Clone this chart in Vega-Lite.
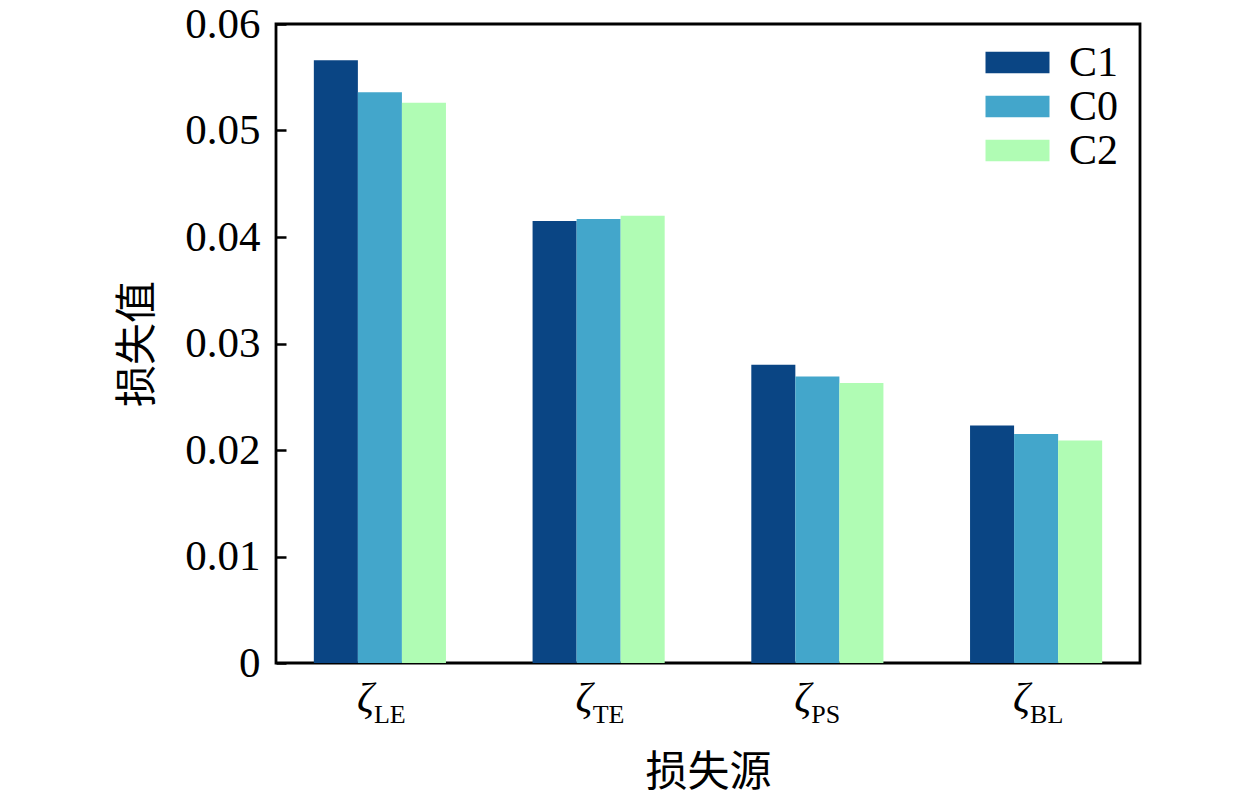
{
  "$schema": "https://vega.github.io/schema/vega-lite/v6.json",
  "width": 864,
  "height": 639,
  "autosize": {"type": "none"},
  "padding": {"left": 276, "top": 24, "right": 119, "bottom": 134},
  "background": "white",
  "config": {
    "view": {"stroke": "black", "strokeWidth": 2.8},
    "font": "Liberation Serif",
    "axis": {
      "domain": false,
      "grid": false,
      "tickColor": "black",
      "tickWidth": 2.5,
      "tickSize": -10,
      "labelColor": "black",
      "titleColor": "black",
      "titleFont": "Noto Sans CJK SC",
      "titleFontWeight": "normal",
      "titleFontSize": 42
    }
  },
  "data": {
    "values": [
      {"source": "LE", "group": "C1", "value": 0.0566},
      {"source": "LE", "group": "C0", "value": 0.0536},
      {"source": "LE", "group": "C2", "value": 0.0526},
      {"source": "TE", "group": "C1", "value": 0.0415},
      {"source": "TE", "group": "C0", "value": 0.0417},
      {"source": "TE", "group": "C2", "value": 0.0420},
      {"source": "PS", "group": "C1", "value": 0.0280},
      {"source": "PS", "group": "C0", "value": 0.0269},
      {"source": "PS", "group": "C2", "value": 0.0263},
      {"source": "BL", "group": "C1", "value": 0.0223},
      {"source": "BL", "group": "C0", "value": 0.0215},
      {"source": "BL", "group": "C2", "value": 0.0209}
    ]
  },
  "encoding": {
    "x": {
      "field": "source",
      "type": "nominal",
      "sort": ["LE", "TE", "PS", "BL"],
      "scale": {"paddingInner": 0.396, "paddingOuter": 0.173},
      "axis": {
        "title": "损失源",
        "labels": false,
        "titleY": 122,
        "titleBaseline": "alphabetic"
      }
    }
  },
  "layer": [
    {
      "mark": {"type": "bar"},
      "encoding": {
        "xOffset": {
          "field": "group",
          "type": "nominal",
          "sort": ["C1", "C0", "C2"],
          "scale": {"paddingInner": 0, "paddingOuter": 0}
        },
        "y": {
          "field": "value",
          "type": "quantitative",
          "scale": {"domain": [0, 0.06], "nice": false},
          "axis": {
            "title": "损失值",
            "values": [0, 0.01, 0.02, 0.03, 0.04, 0.05, 0.06],
            "format": "~g",
            "labelFontSize": 43,
            "labelPadding": 26,
            "titlePadding": 25
          }
        },
        "color": {
          "field": "group",
          "type": "nominal",
          "sort": ["C1", "C0", "C2"],
          "scale": {
            "domain": ["C1", "C0", "C2"],
            "range": ["#0a4584", "#43a6cb", "#b0fcb4"]
          },
          "legend": {
            "title": null,
            "orient": "none",
            "legendX": 720,
            "legendY": 17,
            "symbolType": "M-1.5,-0.5H1.5V0.5H-1.5Z",
            "symbolSize": 1820,
            "symbolStrokeWidth": 0,
            "symbolOpacity": 1,
            "labelFontSize": 42,
            "labelFont": "Liberation Serif",
            "labelColor": "black",
            "labelOffset": 30,
            "rowPadding": 1
          }
        }
      }
    },
    {
      "transform": [{"filter": "datum.group == 'C0'"}],
      "mark": {
        "type": "text",
        "text": "ζ",
        "font": "Liberation Serif",
        "fontStyle": "italic",
        "fontSize": 42,
        "align": "right",
        "baseline": "alphabetic",
        "dx": -6,
        "dy": 49,
        "color": "black"
      },
      "encoding": {"y": {"datum": 0}}
    },
    {
      "transform": [{"filter": "datum.group == 'C0'"}],
      "mark": {
        "type": "text",
        "font": "Liberation Serif",
        "fontSize": 26,
        "align": "left",
        "baseline": "alphabetic",
        "dx": -6,
        "dy": 60,
        "color": "black"
      },
      "encoding": {"y": {"datum": 0}, "text": {"field": "source"}}
    }
  ]
}
